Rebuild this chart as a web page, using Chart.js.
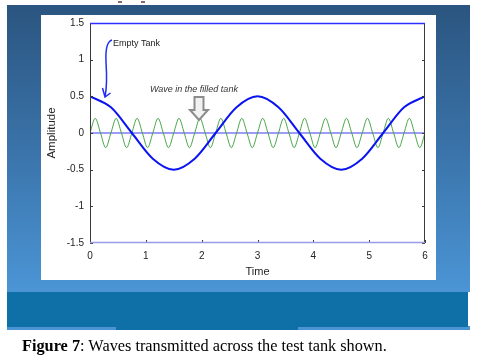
<!DOCTYPE html>
<html>
<head>
<meta charset="utf-8">
<script src="https://cdn.jsdelivr.net/npm/chart.js@4/dist/chart.umd.min.js"></script>
<style>
  html, body { margin: 0; padding: 0; background: #fff; }
  #wrap { position: relative; width: 480px; height: 361px; overflow: hidden; }
  #plot { position: absolute; left: 0; top: 0; }
  #caption {
    position: absolute; left: 22px; top: 338px; white-space: nowrap;
    font-family: "Liberation Serif", "Times New Roman", serif; font-size: 16.3px; line-height: 1; color: #000;
  }
</style>
</head>
<body>
<div id="wrap">
  <canvas id="plot" width="480" height="361"></canvas>
  <div id="caption"><b>Figure 7</b>: Waves transmitted across the test tank shown.</div>
</div>
<script>
// values
const xTicks = [0, 1, 2, 3, 4, 5, 6];
const yTicks = [-1.5, -1, -0.5, 0, 0.5, 1, 1.5];

// empty tank wave (blue)
const blueTime = [0, 0.375, 0.75, 1.125, 1.5, 1.875, 2.25, 2.625, 3, 3.375, 3.75, 4.125, 4.5, 4.875, 5.25, 5.625, 6];
const blueAmp = [0.5, 0.35, 0, -0.35, -0.5, -0.35, 0, 0.35, 0.5, 0.35, 0, -0.35, -0.5, -0.35, 0, 0.35, 0.5];

// wave in the filled tank (green), peaks / zeros / troughs
const greenTime = [
  0, 0.094, 0.188, 0.281, 0.375, 0.469, 0.563, 0.656, 0.75, 0.844, 0.938, 1.031, 1.125, 1.219, 1.313, 1.406,
  1.5, 1.594, 1.688, 1.781, 1.875, 1.969, 2.063, 2.156, 2.25, 2.344, 2.438, 2.531, 2.625, 2.719, 2.813, 2.906,
  3, 3.094, 3.188, 3.281, 3.375, 3.469, 3.563, 3.656, 3.75, 3.844, 3.938, 4.031, 4.125, 4.219, 4.313, 4.406,
  4.5, 4.594, 4.688, 4.781, 4.875, 4.969, 5.063, 5.156, 5.25, 5.344, 5.438, 5.531, 5.625, 5.719, 5.813, 5.906,
  6
];
const greenAmp = [
  0, 0.2, 0, -0.2, 0, 0.2, 0, -0.2, 0, 0.2, 0, -0.2, 0, 0.2, 0, -0.2,
  0, 0.2, 0, -0.2, 0, 0.2, 0, -0.2, 0, 0.2, 0, -0.2, 0, 0.2, 0, -0.2,
  0, 0.2, 0, -0.2, 0, 0.2, 0, -0.2, 0, 0.2, 0, -0.2, 0, 0.2, 0, -0.2,
  0, 0.2, 0, -0.2, 0, 0.2, 0, -0.2, 0, 0.2, 0, -0.2, 0, 0.2, 0, -0.2,
  0
];

// reference line at zero
const zeroTime = [0, 6];
const zeroAmp = [0, 0];

function pts(xs, ys) {
    return xs.map((x, i) => ({ x: x, y: ys[i] }));
}

//slide background + white figure
const backdrop = {
    id: 'backdrop',
    beforeDraw(chart) {
        const c = chart.ctx;
        c.save();
        c.fillStyle = '#fff';
        c.fillRect(0, 0, 480, 361);
        const g = c.createLinearGradient(0, 5, 0, 292);
        g.addColorStop(0, '#2b5580');
        g.addColorStop(0.5, '#3a73a9');
        g.addColorStop(1, '#4b95d6');
        c.fillStyle = g;
        c.fillRect(7, 5, 463, 287);
        c.fillStyle = '#4a94d6';
        c.fillRect(7, 326, 463, 4);
        c.fillStyle = '#0f70a8';
        c.fillRect(7, 292, 461, 35);
        c.fillRect(116, 327, 182, 3);
        c.fillStyle = '#fff';
        c.fillRect(41, 15, 395, 265);
        // cut-off marks at the very top
        c.fillStyle = '#8a6a6a';
        c.fillRect(118, 1, 4, 2);
        c.fillRect(141, 1, 4, 2);
        c.restore();
    }
};

//box, inside ticks and the hand drawn notes
const frame = {
    id: 'frame',
    afterDatasetsDraw(chart) {
        const c = chart.ctx;
        const a = chart.chartArea;
        const xs = chart.scales.x, ys = chart.scales.y;
        c.save();
        c.lineWidth = 1;
        c.strokeStyle = '#3a3a3a';
        c.beginPath();
        c.moveTo(a.left + 0.5, a.top); c.lineTo(a.left + 0.5, a.bottom);
        c.moveTo(a.right - 0.5, a.top); c.lineTo(a.right - 0.5, a.bottom);
        xTicks.forEach(v => {
            const px = Math.round(xs.getPixelForValue(v)) + 0.5;
            c.moveTo(px, a.bottom); c.lineTo(px, a.bottom - 3);
        });
        yTicks.forEach(v => {
            const py = Math.round(ys.getPixelForValue(v)) + 0.5;
            c.moveTo(a.left, py); c.lineTo(a.left + 3, py);
            c.moveTo(a.right, py); c.lineTo(a.right - 3, py);
        });
        c.stroke();
        c.lineWidth = 1.5;
        c.strokeStyle = '#2f2fff';
        c.beginPath();
        c.moveTo(a.left, a.top + 0.5); c.lineTo(a.right, a.top + 0.5);
        c.stroke();
        c.strokeStyle = '#9a9ae8';
        c.beginPath();
        c.moveTo(a.left, a.bottom - 0.5); c.lineTo(a.right, a.bottom - 0.5);
        c.stroke();

        // Empty Tank note
        c.strokeStyle = '#2030ee';
        c.lineWidth = 1.5;
        c.beginPath();
        c.moveTo(112, 40);
        c.quadraticCurveTo(105, 42, 106, 62);
        c.quadraticCurveTo(107.5, 85, 105, 97);
        c.moveTo(102.5, 88); c.lineTo(105, 97); c.lineTo(110.5, 93);
        c.stroke();
        c.fillStyle = '#222';
        c.font = '9px "Liberation Sans", Arial, sans-serif';
        c.textBaseline = 'middle';
        c.fillText('Empty Tank', 113, 44);

        c.font = 'italic 9px "Liberation Sans", Arial, sans-serif';
        c.fillStyle = '#333';
        c.fillText('Wave in the filled tank', 150, 89.5);

        // gray block arrow
        c.beginPath();
        c.moveTo(194.5, 97); c.lineTo(203.5, 97); c.lineTo(203.5, 110);
        c.lineTo(208, 110); c.lineTo(199, 120); c.lineTo(190, 110);
        c.lineTo(194.5, 110); c.closePath();
        c.fillStyle = '#f2f2f2';
        c.fill();
        c.strokeStyle = '#8c8c8c';
        c.lineWidth = 2;
        c.stroke();
        c.restore();
    }
};

const tickFont = { family: '"Liberation Sans", Arial, sans-serif', size: 10 };

new Chart(document.getElementById('plot'), {
    type: 'line',
    data: {
        datasets: [
            { data: pts(blueTime, blueAmp), borderColor: '#0a14f0', borderWidth: 2, cubicInterpolationMode: 'monotone' },
            { data: pts(greenTime, greenAmp), borderColor: '#4aa44a', borderWidth: 1, cubicInterpolationMode: 'monotone' },
            { data: pts(zeroTime, zeroAmp), borderColor: '#7c7cf4', borderWidth: 1.5 }
        ]
    },
    options: {
        responsive: false,
        animation: false,
        devicePixelRatio: 1,
        layout: { padding: { left: 0, top: 23, right: 55, bottom: 0 } },
        elements: { point: { radius: 0 }, line: { fill: false } },
        plugins: { legend: { display: false }, tooltip: { enabled: false } },
        scales: {
            x: {
                type: 'linear', min: 0, max: 6,
                grid: { display: false, drawTicks: false },
                border: { display: false },
                afterBuildTicks: s => { s.ticks = xTicks.map(v => ({ value: v })); },
                afterFit: s => { s.height = 118; },
                ticks: { font: tickFont, color: '#222', padding: 7, maxRotation: 0, callback: v => String(v) },
                title: { display: true, text: 'Time', color: '#222',
                    font: { family: '"Liberation Sans", Arial, sans-serif', size: 11 },
                    padding: { top: 0, bottom: 82 } }
            },
            y: {
                type: 'linear', min: -1.5, max: 1.5,
                grid: { display: false, drawTicks: false },
                border: { display: false },
                afterBuildTicks: s => { s.ticks = yTicks.map(v => ({ value: v })); },
                afterFit: s => { s.width = 90; },
                ticks: { font: tickFont, color: '#222', padding: 6, callback: v => String(v) },
                title: { display: true, text: 'Amplitude', color: '#222',
                    font: { family: '"Liberation Sans", Arial, sans-serif', size: 11.5 },
                    padding: { top: 45, bottom: 0 } }
            }
        }
    },
    plugins: [backdrop, frame]
});
</script>
</body>
</html>
